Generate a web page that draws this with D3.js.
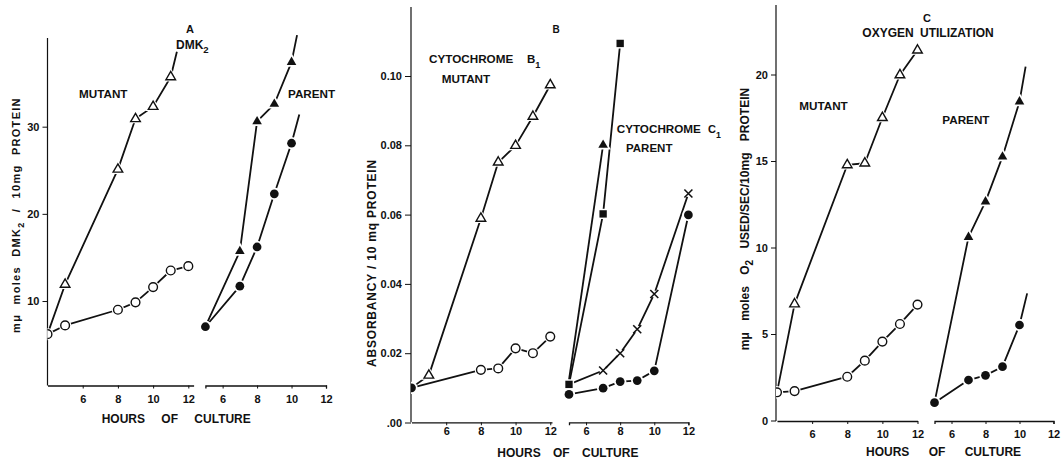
<!DOCTYPE html>
<html><head><meta charset="utf-8">
<script src="https://cdn.jsdelivr.net/npm/d3@7"></script>
<style>
body{margin:0;background:#fff}
svg text{font-family:"Liberation Sans",Arial,sans-serif;font-weight:bold;fill:#111}
</style>
</head><body>
<svg id="chart" width="1064" height="460"></svg>
<script>
// ================= DATA =================
const xTickHours = [6, 8, 10, 12];

// Panel A — DMK2 (mμ moles / 10 mg protein)
const aYTicks = [10, 20, 30];
const aMutTriHours = [4, 5, 8, 9, 10, 11];
const aMutTriValues = [6.2, 11.9, 25.1, 30.9, 32.3, 35.7];
const aMutTriTail = [11.35, 38.6];
const aMutCircHours = [4, 5, 8, 9, 10, 11, 12];
const aMutCircValues = [6.2, 7.2, 9.0, 9.85, 11.6, 13.5, 14.0];
const aParTriHours = [5, 7, 8, 9, 10];
const aParTriValues = [7.05, 15.7, 30.6, 32.6, 37.4];
const aParTriTail = [10.32, 40.5];
const aParCircHours = [5, 7, 8, 9, 10];
const aParCircValues = [7.05, 11.7, 16.2, 22.3, 28.1];
const aParCircTail = [10.45, 31.4];

// Panel B — cytochromes (absorbancy / 10 mg protein)
const bYTicks = [0, 0.02, 0.04, 0.06, 0.08, 0.10];
const bYTickLabels = [".00", "0.02", "0.04", "0.06", "0.08", "0.10"];
const bMutTriHours = [4, 5, 8, 9, 10, 11, 12];
const bMutTriValues = [0.010, 0.0136, 0.0589, 0.0751, 0.0799, 0.0883, 0.0974];
const bMutCircHours = [4, 8, 9, 10, 11, 12];
const bMutCircValues = [0.010, 0.0152, 0.0156, 0.0214, 0.0200, 0.0248];
const bParTriHours = [5, 7];
const bParTriValues = [0.0123, 0.0801];
const bParSqHours = [5, 7, 8];
const bParSqValues = [0.011, 0.0602, 0.1094];
const bParCrossHours = [5, 7, 8, 9, 10, 12];
const bParCrossValues = [0.011, 0.0150, 0.0200, 0.0269, 0.0371, 0.0661];
const bParCircHours = [5, 7, 8, 9, 10, 12];
const bParCircValues = [0.0081, 0.0099, 0.0118, 0.0121, 0.0149, 0.0599];

// Panel C — oxygen utilization (mμ moles O2 used / sec / 10 mg protein)
const cYTicks = [0, 5, 10, 15, 20];
const cMutTriHours = [4, 5, 8, 9, 10, 11, 12];
const cMutTriValues = [1.63, 6.73, 14.77, 14.87, 17.5, 19.97, 21.4];
const cMutCircHours = [4, 5, 8, 9, 10, 11, 12];
const cMutCircValues = [1.63, 1.7, 2.53, 3.46, 4.56, 5.58, 6.7];
const cParTriHours = [5, 7, 8, 9, 10];
const cParTriValues = [1.03, 10.6, 12.65, 15.25, 18.43];
const cParTriTail = [10.36, 20.45];
const cParCircHours = [5, 7, 8, 9, 10];
const cParCircValues = [1.03, 2.34, 2.61, 3.11, 5.52];
const cParCircTail = [10.45, 7.35];

// ================= DRAW =================
const svg = d3.select("#chart");
const INK = "#111";
const FONT = "Liberation Sans, Arial, sans-serif";

function series(hours, values, marker, firstMarker, tail) {
  return {hours, values, marker, firstMarker, tail};
}

const panels = [
  {
    id: "A", yDomain: [0, 40], yRange: [388.2, 39.5], yTop: 38, xAxisY: 385.5, yAxisX: 47.5,
    yTicks: aYTicks, yFmt: d => String(d), yTickSize: 5, xLabelPad: 7,
    left: {domain: [4, 12.3], range: [47.5, 193.6], outer: 0, series: [
      series(aMutTriHours, aMutTriValues, "openTri", "none", aMutTriTail),
      series(aMutCircHours, aMutCircValues, "openCirc", "openCirc", null)]},
    right: {domain: [5, 12], range: [205.4, 326], outer: 3, series: [
      series(aParTriHours, aParTriValues, "fillTri", "none", aParTriTail),
      series(aParCircHours, aParCircValues, "fillCirc", "fillCirc", aParCircTail)]}
  },
  {
    id: "B", yDomain: [0, 0.12], yRange: [422.5, 6.7], yTop: 7, xAxisY: 422.3, yAxisX: 411,
    yTicks: bYTicks, yFmt: (d, i) => bYTickLabels[i], yTickSize: 6, xLabelPad: 2,
    left: {domain: [4, 12.1], range: [411.5, 552], outer: 0, series: [
      series(bMutTriHours, bMutTriValues, "openTri", "none", null),
      series(bMutCircHours, bMutCircValues, "openCirc", "fillCirc", null)]},
    right: {domain: [5, 12], range: [569, 688.4], outer: 3, series: [
      series(bParTriHours, bParTriValues, "fillTri", "none", null),
      series(bParSqHours, bParSqValues, "fillSq", "fillSq", null),
      series(bParCrossHours, bParCrossValues, "cross", "none", null),
      series(bParCircHours, bParCircValues, "fillCirc", "fillCirc", null)]}
  },
  {
    id: "C", yDomain: [0, 24], yRange: [420.5, 5.3], yTop: 5, xAxisY: 421, yAxisX: 776,
    yTicks: cYTicks, yFmt: d => String(d), yTickSize: 5, xLabelPad: 6.5,
    left: {domain: [4, 12], range: [777, 917.5], outer: 0, series: [
      series(cMutTriHours, cMutTriValues, "openTri", "none", null),
      series(cMutCircHours, cMutCircValues, "openCirc", "openCirc", null)]},
    right: {domain: [5, 12], range: [934.5, 1053.5], outer: 3, series: [
      series(cParTriHours, cParTriValues, "fillTri", "none", cParTriTail),
      series(cParCircHours, cParCircValues, "fillCirc", "fillCirc", cParCircTail)]}
  }
];

const defs = svg.append("defs");

function markerPath(kind) {
  if (kind === "openTri" || kind === "fillTri") return d3.symbol(d3.symbolTriangle, 40)();
  if (kind === "openCirc" || kind === "fillCirc") return d3.symbol(d3.symbolCircle, 60)();
  if (kind === "fillSq") return d3.symbol(d3.symbolSquare, 54)();
  if (kind === "cross") return "M-4,-4L4,4M-4,4L4,-4";
  return null;
}
function haloPath(kind) {
  if (kind === "openTri" || kind === "fillTri") return d3.symbol(d3.symbolTriangle, 105)();
  if (kind === "openCirc" || kind === "fillCirc") return d3.symbol(d3.symbolCircle, 120)();
  if (kind === "fillSq") return d3.symbol(d3.symbolSquare, 105)();
  if (kind === "cross") return d3.symbol(d3.symbolCircle, 40)();
  return null;
}

panels.forEach(p => {
  const g = svg.append("g");
  const y = d3.scaleLinear().domain(p.yDomain).range(p.yRange);

  // y axis
  const yAx = g.append("g").attr("transform", `translate(${p.yAxisX},0)`)
    .call(d3.axisLeft(y).tickValues(p.yTicks).tickFormat(p.yFmt).tickSize(p.yTickSize).tickPadding(3));
  yAx.select(".domain").remove();
  yAx.selectAll("line").attr("stroke", INK).attr("stroke-width", 1);
  yAx.selectAll("text").attr("font-size", 11).attr("font-family", FONT).attr("font-weight", "bold").attr("fill", INK);
  g.append("line").attr("x1", p.yAxisX).attr("x2", p.yAxisX).attr("y1", p.yTop).attr("y2", p.xAxisY)
    .attr("stroke", INK).attr("stroke-width", 1.2);

  ["left", "right"].forEach(side => {
    const sp = p[side];
    const x = d3.scaleLinear().domain(sp.domain).range(sp.range);
    const xAx = g.append("g").attr("transform", `translate(0,${p.xAxisY})`)
      .call(d3.axisBottom(x).tickValues(xTickHours).tickFormat(d3.format("d"))
        .tickSize(3).tickSizeOuter(sp.outer).tickPadding(p.xLabelPad));
    xAx.select(".domain").attr("stroke", INK).attr("stroke-width", 1.3);
    xAx.selectAll(".tick line").attr("stroke", INK);
    xAx.selectAll("text").attr("font-size", 11).attr("font-family", FONT).attr("font-weight", "bold").attr("fill", INK);

    const clipId = `clip${p.id}${side}`;
    defs.append("clipPath").attr("id", clipId).append("rect")
      .attr("x", side === "left" ? p.yAxisX : sp.range[0] - 12).attr("y", 0)
      .attr("width", 400).attr("height", 460);
    const plot = g.append("g").attr("clip-path", `url(#${clipId})`);

    const line = d3.line().x(d => x(d[0])).y(d => y(d[1]));
    sp.series.forEach(s => {
      const pts = s.hours.map((h, i) => [h, s.values[i]]);
      if (s.tail) pts.push([s.tail[0], s.tail[1]]);
      plot.append("path").attr("d", line(pts)).attr("fill", "none")
        .attr("stroke", INK).attr("stroke-width", 1.8).attr("stroke-linejoin", "round");
    });
    // halos (white gaps around markers, as in the hand-drawn original)
    sp.series.forEach(s => {
      s.hours.forEach((h, i) => {
        const k = i === 0 ? s.firstMarker : s.marker;
        if (k === "none") return;
        plot.append("path").attr("d", haloPath(k))
          .attr("transform", `translate(${x(h)},${y(s.values[i])})`).attr("fill", "#fff");
      });
    });
    // markers
    sp.series.forEach(s => {
      s.hours.forEach((h, i) => {
        const k = i === 0 ? s.firstMarker : s.marker;
        if (k === "none") return;
        const open = k.startsWith("open");
        const m = plot.append("path").attr("d", markerPath(k))
          .attr("transform", `translate(${x(h)},${y(s.values[i])})`);
        if (k === "cross") m.attr("fill", "none").attr("stroke", INK).attr("stroke-width", 1.6);
        else if (open) m.attr("fill", "#fff").attr("stroke", INK).attr("stroke-width", 1.4);
        else m.attr("fill", INK).attr("stroke", "none");
      });
    });
  });
});

// ================= TEXT =================
function txt(x, yy, s, size, opts = {}) {
  const t = svg.append("text").attr("x", x).attr("y", yy).attr("font-size", size).text(s);
  if (opts.anchor) t.attr("text-anchor", opts.anchor);
  if (opts.ws !== undefined) t.style("word-spacing", opts.ws + "px");
  if (opts.ls !== undefined) t.style("letter-spacing", opts.ls + "px");
  return t;
}
function withSub(x, yy, main, sub, size, subDy) {
  const t = svg.append("text").attr("x", x).attr("y", yy).attr("font-size", size);
  t.append("tspan").text(main);
  t.append("tspan").attr("dy", subDy).attr("font-size", size * 0.8).text(sub);
  return t;
}

// Panel A labels
txt(190, 33, "A", 11, {anchor: "middle"});
withSub(176, 49, "DMK", "2", 12, 4);
txt(79, 98.3, "MUTANT", 11.7);
txt(288, 98, "PARENT", 11.7);
txt(101.7, 423.3, "HOURS OF CULTURE", 12, {ws: 13});
{
  const t = svg.append("text").attr("transform", "translate(20,215) rotate(-90)")
    .attr("text-anchor", "middle").attr("font-size", 11).style("letter-spacing", "1.3px").style("word-spacing", "5px");
  t.append("tspan").text("mμ moles  DMK");
  t.append("tspan").attr("dy", 4).attr("font-size", 9).text("2");
  t.append("tspan").attr("dy", -4).text(" / 10mg PROTEIN");
}

// Panel B labels
txt(556, 33, "B", 10, {anchor: "middle"});
txt(429, 62.7, "CYTOCHROME", 11.7);
withSub(527, 62.7, "B", "1", 11.5, 5);
txt(441.7, 82.7, "MUTANT", 11.7);
txt(616.7, 133.3, "CYTOCHROME", 11.7);
withSub(708, 132.5, "C", "1", 11, 5);
txt(626, 152.3, "PARENT", 11.5);
txt(497.3, 457.3, "HOURS OF CULTURE", 12, {ws: 9});
svg.append("text").attr("transform", "translate(376,263) rotate(-90)")
  .attr("text-anchor", "middle").attr("font-size", 12).style("letter-spacing", "0.8px")
  .text("ABSORBANCY / 10 mq PROTEIN");

// Panel C labels
txt(927, 22, "C", 11, {anchor: "middle"});
txt(862.3, 37.3, "OXYGEN UTILIZATION", 12, {ws: 3});
txt(799.3, 110, "MUTANT", 11.7);
txt(942.3, 124, "PARENT", 11.7);
txt(866, 456, "HOURS OF CULTURE", 12, {ws: 16});
{
  const t = svg.append("text").attr("transform", "translate(749,219) rotate(-90)")
    .attr("text-anchor", "middle").attr("font-size", 12).style("word-spacing", "8px");
  t.append("tspan").text("mμ moles O");
  t.append("tspan").attr("dy", 4).attr("font-size", 10).text("2");
  t.append("tspan").attr("dy", -4).text(" USED/SEC/10mg PROTEIN");
}
</script>
</body></html>
